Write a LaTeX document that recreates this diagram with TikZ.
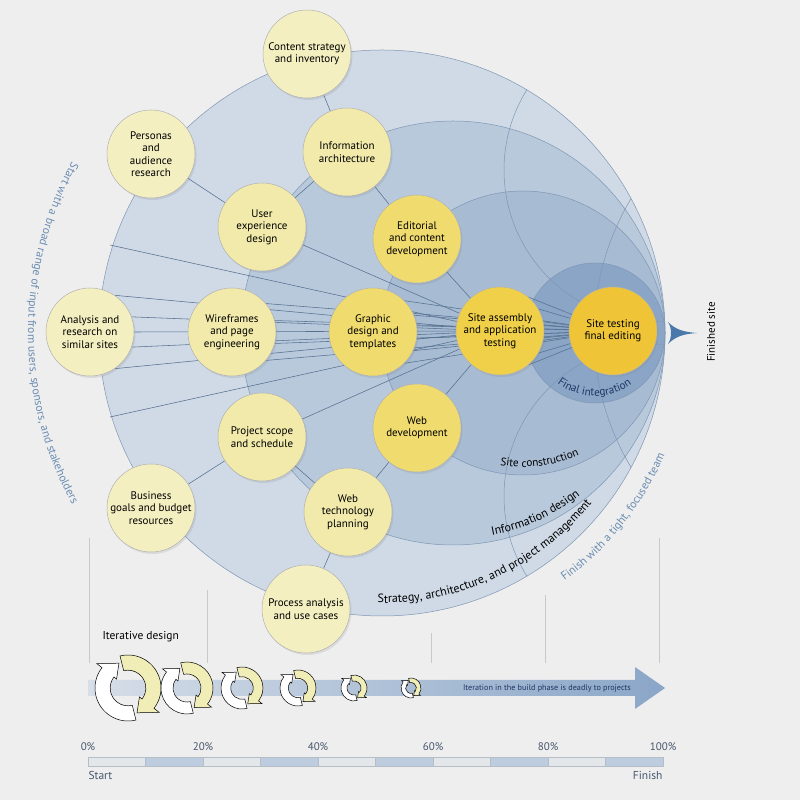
\documentclass[tikz,border=0pt]{standalone}
\usepackage{fontspec}
\setmainfont{PT Sans}
\usetikzlibrary{decorations.text,shadows}

\pgfdeclarelayer{back}
\pgfdeclarelayer{wires}
\pgfsetlayers{back,wires,main}

\definecolor{paper}{HTML}{EEEEEE}
\definecolor{ringA}{HTML}{CFDAE6}
\definecolor{ringB}{HTML}{B8C9DC}
\definecolor{ringC}{HTML}{A7BBD3}
\definecolor{ringD}{HTML}{8AA5C6}
\definecolor{ringedge}{HTML}{7F96B3}
\definecolor{wire}{HTML}{56708F}
\definecolor{yelA}{HTML}{F3EFC1}
\definecolor{yelB}{HTML}{F1EAAB}
\definecolor{yelC}{HTML}{F0DC6E}
\definecolor{yelD}{HTML}{F0D048}
\definecolor{yelE}{HTML}{EFC537}
\definecolor{steel}{HTML}{6A8CB2}
\definecolor{navy}{HTML}{1E3663}
\definecolor{slate}{HTML}{46566C}
\definecolor{rule}{HTML}{C9C9C9}
\definecolor{barL}{HTML}{D6DEE8}
\definecolor{barR}{HTML}{8AA6C8}
\definecolor{cyclefill}{HTML}{F0EDB6}
\definecolor{seglight}{HTML}{E4E7EA}
\definecolor{segblue}{HTML}{BECCDF}
\definecolor{segedge}{HTML}{B5BDC6}
\definecolor{tipblue}{HTML}{4A78AA}

\newcommand\taskfont{\fontsize{11}{12.4}\selectfont}
\newcommand\bandfont{\fontsize{12}{14}\selectfont}
\newcommand\ringfont{\fontsize{11.2}{13}\selectfont}
\newcommand\sidefont{\fontsize{11.6}{13}\selectfont}
\newcommand\scalefont{\fontsize{11}{13}\selectfont}

\tikzset{
  task/.style={circle, draw=black!30, line width=0.5pt, minimum size=88pt,
    inner sep=0pt, align=center, font=\taskfont,
    drop shadow={opacity=0.18, shadow xshift=1.5pt, shadow yshift=-2pt}},
  early/.style={task, fill=yelA},
  plan/.style={task, fill=yelB},
  make/.style={task, fill=yelC},
  ring/.style={draw=ringedge, line width=0.5pt},
  wireline/.style={draw=wire, line width=0.55pt},
  bandtext/.style={decorate, decoration={text along path, text align=center,
    text color=#1}},
  rulerline/.style={draw=rule, line width=0.8pt},
  cycleline/.style={draw=black, line width=0.5pt},
}

\begin{document}
\begin{tikzpicture}[x=1pt,y=1pt]
  \useasboundingbox (0,0) rectangle (800,800);
  \coordinate (hub) at (382,467);
  \coordinate (infoC) at (453,467);
  \coordinate (siteC) at (523,467);
  \coordinate (finalC) at (595,467);
  \coordinate (edgeN) at (110,555);
  \coordinate (edgeS) at (110,383);

  % rings
  \begin{pgfonlayer}{back}
    \fill[paper] (0,0) rectangle (800,800);
    \filldraw[ring, fill=ringA] (hub) circle (283);
    \filldraw[ring, fill=ringB] (infoC) circle (212);
    \filldraw[ring, fill=ringC] (siteC) circle (142);
    \filldraw[ring, fill=ringD] (finalC) circle (70);
    \begin{scope}
      \clip (hub) circle (283);
      \draw[ring] (656,630) circle (152);
      \draw[ring] (656,304) circle (152);
      \draw[ring] (856,467) circle (262);
    \end{scope}
  \end{pgfonlayer}

  % tasks
  \node[early] (content) at (307,746) {Content strategy\\and inventory};
  \node[early] (personas) at (151,646) {Personas\\and\\audience\\research};
  \node[plan] (infoarch) at (347,648) {Information\\architecture};
  \node[plan] (ux) at (262,573) {User\\experience\\design};
  \node[make] (editorial) at (417,561) {Editorial\\and content\\development};
  \node[early] (analysis) at (90,468) {Analysis and\\research on\\similar sites};
  \node[plan] (wireframes) at (232,468) {Wireframes\\and page\\engineering};
  \node[make] (graphic) at (373,468) {Graphic\\design and\\templates};
  \node[task, fill=yelD] (assembly) at (500,469) {Site assembly\\and application\\testing};
  \node[task, fill=yelE] (testing) at (613,469) {Site testing\\final editing};
  \node[plan] (scope) at (262,363) {Project scope\\and schedule};
  \node[make] (webdev) at (417,372) {Web\\development};
  \node[early] (business) at (151,292) {Business\\goals and budget\\resources};
  \node[plan] (webtech) at (348,288) {Web\\technology\\planning};
  \node[early] (process) at (306,191) {Process analysis\\and use cases};

  % links
  \begin{pgfonlayer}{wires}
    \draw[wireline] (content) -- (infoarch);
    \draw[wireline] (personas) -- (ux);
    \draw[wireline] (infoarch) -- (ux);
    \draw[wireline] (infoarch) -- (editorial);
    \draw[wireline] (editorial) -- (assembly);
    \draw[wireline] (ux) -- (assembly);
    \draw[wireline] (scope) -- (assembly);
    \draw[wireline] (webdev) -- (assembly);
    \draw[wireline] (business) -- (scope);
    \draw[wireline] (scope) -- (webtech);
    \draw[wireline] (webtech) -- (webdev);
    \draw[wireline] (webtech) -- (process);
    \draw[wireline] (edgeN) -- (assembly);
    \draw[wireline] (edgeS) -- (assembly);
    \foreach \a in {56,20,0,-20,-56}
      \draw[wireline] (analysis.\a) -- (assembly);
    \foreach \a in {40,15,-15,-40}
      \draw[wireline] (wireframes.\a) -- (testing);
    \foreach \a in {45,25,8,-8,-25,-45}
      \draw[wireline] (graphic.\a) -- (testing);
    \foreach \a in {50,30,12,-12,-30,-50}
      \draw[wireline] (assembly.\a) -- (testing);
  \end{pgfonlayer}

  % band labels
  \path[bandtext=black, decoration={text={|\bandfont|Strategy, architecture, and project management}}]
    ([shift={(hub)}]-102:270) arc[start angle=-102, end angle=-28, radius=270];
  \path[bandtext=black, decoration={text={|\bandfont|Information design}}]
    ([shift={(infoC)}]-88:206) arc[start angle=-88, end angle=-43, radius=206];
  \path[bandtext=black, decoration={text={|\ringfont|Site construction}}]
    ([shift={(siteC)}]-112:134) arc[start angle=-112, end angle=-53, radius=134];
  \path[bandtext=navy, decoration={text={|\ringfont|Final integration}}]
    ([shift={(finalC)}]-145:63) arc[start angle=-145, end angle=-36, radius=63];
  \path[bandtext=steel, decoration={text={|\sidefont|Start with a broad range of input from users, sponsors, and stakeholders}}]
    ([shift={(hub)}]138:354) arc[start angle=138, end angle=222, radius=354];
  \path[bandtext=steel, decoration={text={|\sidefont|Finish with a tight, focused team}}]
    ([shift={(hub)}]-62:308) arc[start angle=-62, end angle=-15, radius=308];

  % finished site
  \fill[tipblue] (668,478) .. controls (676,470) and (684,468) .. (697,467)
    .. controls (684,466) and (676,464) .. (668,456)
    .. controls (672,462) and (672,472) .. cycle;
  \node[rotate=90, font=\scalefont] (finished) at (711,468) {Finished site};

  % timeline
  \foreach \x/\top in {89/262, 207/210, 431/167, 545/205, 659/262}
    \draw[rulerline] (\x,\top) -- (\x,137);
  \node[anchor=west, font=\fontsize{11.5}{13}\selectfont] (iterative) at (99,163) {Iterative design};
  \shade[left color=barL, right color=barR] (88,120) -- (635,120) -- (635,133)
    -- (665,112) -- (635,91) -- (635,104) -- (88,104) -- cycle;
  \node[font=\fontsize{8.2}{9}\selectfont, text=navy] (deadly) at (547,112)
    {Iteration in the build phase is deadly to projects};
  \foreach \x/\s in {128/33, 187/26, 242/21, 298/18, 354/13, 411/10} {
    \begin{scope}[shift={(\x,112)}]
      \filldraw[cycleline, fill=cyclefill] (104:\s)
        arc[start angle=104, end angle=-38, radius=\s] -- (-38:{1.2*\s})
        -- (-70:{0.8*\s}) -- (-38:{0.44*\s}) -- (-38:{0.54*\s})
        arc[start angle=-38, end angle=104, radius={0.54*\s}] -- cycle;
      \filldraw[cycleline, fill=white] (-76:\s)
        arc[start angle=-76, end angle=-218, radius=\s] -- (-218:{1.2*\s})
        -- (-250:{0.8*\s}) -- (-218:{0.44*\s}) -- (-218:{0.54*\s})
        arc[start angle=-218, end angle=-76, radius={0.54*\s}] -- cycle;
    \end{scope}
  }

  % percentage scale
  \foreach \p in {0,20,40,60,80,100}
    \node[font=\scalefont, text=slate] (pct\p) at ({88+5.75*\p},53) {\p\%};
  \foreach \i in {0,...,9} {
    \ifodd\i \def\segcol{segblue}\else \def\segcol{seglight}\fi
    \filldraw[fill=\segcol, draw=segedge, line width=0.4pt]
      ({88+57.5*\i},34) rectangle ({145.5+57.5*\i},43);
  }
  \node[anchor=west, font=\fontsize{11.5}{13}\selectfont, text=slate] (start) at (85,25) {Start};
  \node[anchor=east, font=\fontsize{11.5}{13}\selectfont, text=slate] (finish) at (666,25) {Finish};
\end{tikzpicture}
\end{document}
